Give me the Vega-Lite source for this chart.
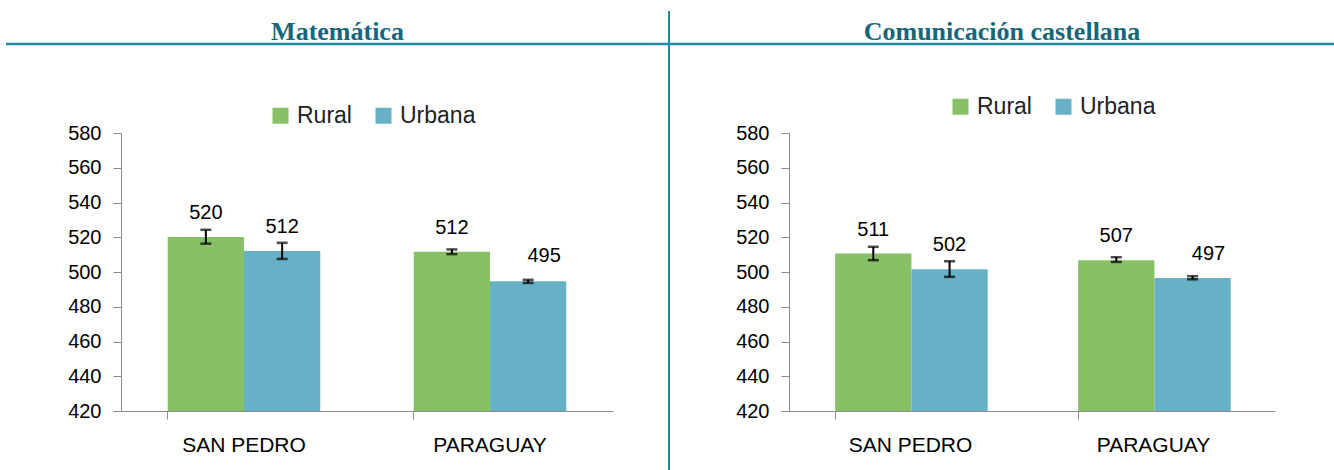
{
  "$schema": "https://vega.github.io/schema/vega-lite/v6.json",
  "padding": {"left": 4, "top": 10, "right": 0, "bottom": 0},
  "background": "white",
  "config": {
    "view": {"stroke": null},
    "font": "Liberation Sans",
    "axisY": {"grid": false, "domainColor": "#8c8c8c", "tickColor": "#8c8c8c", "tickSize": 8, "labelPadding": 12, "labelFontSize": 20, "labelColor": "#000000", "domainWidth": 1, "labelOverlap": false},
    "axisX": {"grid": false, "domainColor": "#8c8c8c", "tickColor": "#8c8c8c", "tickSize": 8, "labelPadding": 15, "labelFontSize": 21, "labelColor": "#000000", "labelAngle": 0, "domainWidth": 1}
  },
  "datasets": {
    "scores": [
      {"subject": "Matemática", "region": "SAN PEDRO", "area": "Rural", "value": 520.1, "lo": 516.3, "hi": 524.3, "label": "520"},
      {"subject": "Matemática", "region": "SAN PEDRO", "area": "Urbana", "value": 512.1, "lo": 507.5, "hi": 516.8, "label": "512"},
      {"subject": "Matemática", "region": "PARAGUAY", "area": "Rural", "value": 511.6, "lo": 510.3, "hi": 513.0, "label": "512"},
      {"subject": "Matemática", "region": "PARAGUAY", "area": "Urbana", "value": 494.7, "lo": 493.7, "hi": 495.5, "label": "495"},
      {"subject": "Comunicación castellana", "region": "SAN PEDRO", "area": "Rural", "value": 510.6, "lo": 506.8, "hi": 514.5, "label": "511"},
      {"subject": "Comunicación castellana", "region": "SAN PEDRO", "area": "Urbana", "value": 501.6, "lo": 497.2, "hi": 506.2, "label": "502"},
      {"subject": "Comunicación castellana", "region": "PARAGUAY", "area": "Rural", "value": 506.7, "lo": 505.8, "hi": 508.5, "label": "507"},
      {"subject": "Comunicación castellana", "region": "PARAGUAY", "area": "Urbana", "value": 496.6, "lo": 495.8, "hi": 497.6, "label": "497"}
    ],
    "headers": [
      {"subject": "Matemática"},
      {"subject": "Comunicación castellana"}
    ]
  },
  "bounds": "flush",
  "spacing": 176,
  "resolve": {"scale": {"color": "independent"}, "legend": {"color": "independent"}},
  "hconcat": [
    {
      "width": 492, "height": 278,
      "layer": [
        {
          "data": {"name": "scores"},
          "transform": [{"filter": {"field": "subject", "equal": "Matemática"}}],
          "encoding": {
            "x": {"field": "region", "type": "nominal", "sort": ["SAN PEDRO", "PARAGUAY"], "title": null, "scale": {"paddingInner": 0.38, "paddingOuter": 0.19}, "axis": {"bandPosition": 0}},
            "xOffset": {"field": "area", "type": "nominal", "sort": ["Rural", "Urbana"], "scale": {"paddingInner": 0, "paddingOuter": 0}}
          },
          "layer": [
            {
              "mark": {"type": "bar"},
              "encoding": {
                "y": {"field": "value", "type": "quantitative", "title": null, "scale": {"domain": [420, 580], "nice": false, "zero": false}, "axis": {"values": [420, 440, 460, 480, 500, 520, 540, 560, 580]}},
                "y2": {"datum": 420},
                "color": {"field": "area", "type": "nominal", "sort": ["Rural", "Urbana"], "scale": {"domain": ["Rural", "Urbana"], "range": ["#87c066", "#66b1c6"]},
                  "legend": {"orient": "none", "legendX": 148, "legendY": -29, "direction": "horizontal", "title": null, "symbolType": "square", "symbolSize": 256, "symbolStrokeWidth": 0, "labelFontSize": 23, "labelColor": "#222222", "columnPadding": 20, "labelOffset": 5}}
              }
            },
            {"mark": {"type": "rule", "strokeWidth": 2, "color": "#000000"}, "encoding": {"y": {"field": "lo", "type": "quantitative", "title": null, "axis": {"values": [420, 440, 460, 480, 500, 520, 540, 560, 580]}}, "y2": {"field": "hi"}}},
            {"mark": {"type": "tick", "size": 11, "thickness": 2.5, "color": "#000000"}, "encoding": {"y": {"field": "lo", "type": "quantitative", "title": null, "axis": {"values": [420, 440, 460, 480, 500, 520, 540, 560, 580]}}}},
            {"mark": {"type": "tick", "size": 11, "thickness": 2.5, "color": "#000000"}, "encoding": {"y": {"field": "hi", "type": "quantitative", "title": null, "axis": {"values": [420, 440, 460, 480, 500, 520, 540, 560, 580]}}}},
            {
              "transform": [{"filter": "!(datum.region == 'PARAGUAY' && datum.area == 'Urbana')"}],
              "mark": {"type": "text", "dy": -24, "baseline": "middle", "fontSize": 20, "color": "#000000"},
              "encoding": {"y": {"field": "value", "type": "quantitative", "title": null, "axis": {"values": [420, 440, 460, 480, 500, 520, 540, 560, 580]}}, "text": {"field": "label"}}
            },
            {
              "transform": [{"filter": "datum.region == 'PARAGUAY' && datum.area == 'Urbana'"}],
              "mark": {"type": "text", "dy": -25, "dx": 16, "baseline": "middle", "fontSize": 20, "color": "#000000"},
              "encoding": {"y": {"field": "value", "type": "quantitative", "title": null, "axis": {"values": [420, 440, 460, 480, 500, 520, 540, 560, 580]}}, "text": {"field": "label"}}
            }
          ]
        },
        {
          "data": {"name": "headers"},
          "transform": [{"filter": {"field": "subject", "equal": "Matemática"}}],
          "layer": [
            {
              "mark": {"type": "rule", "color": "#1f8aa6", "strokeWidth": 2.5},
              "encoding": {
                "x": {"datum": -115, "type": "quantitative", "scale": {"domain": [0, 492], "nice": false, "zero": false}, "axis": null},
                "x2": {"datum": 548},
                "y": {"datum": 631.2, "type": "quantitative", "axis": {"values": [420, 440, 460, 480, 500, 520, 540, 560, 580]}, "title": null}
              }
            },
            {
              "mark": {"type": "rule", "color": "#1f8aa6", "strokeWidth": 2},
              "encoding": {
                "x": {"datum": 548, "type": "quantitative", "scale": {"domain": [0, 492], "nice": false, "zero": false}, "axis": null},
                "y": {"datum": 650.2, "type": "quantitative", "axis": {"values": [420, 440, 460, 480, 500, 520, 540, 560, 580]}, "title": null},
                "y2": {"datum": 385.5}
              }
            },
            {
              "mark": {"type": "text", "font": "Liberation Serif", "fontSize": 26, "fontWeight": "bold", "color": "#17667b", "align": "center", "baseline": "alphabetic"},
              "encoding": {
                "x": {"datum": 216.5, "type": "quantitative", "scale": {"domain": [0, 492], "nice": false, "zero": false}, "axis": null},
                "y": {"datum": 633.5, "type": "quantitative", "axis": {"values": [420, 440, 460, 480, 500, 520, 540, 560, 580]}, "title": null},
                "text": {"field": "subject"}
              }
            }
          ]
        }
      ],
      "resolve": {"scale": {"x": "independent"}, "axis": {"x": "independent"}}
    },
    {
      "width": 486, "height": 278,
      "layer": [
        {
          "data": {"name": "scores"},
          "transform": [{"filter": {"field": "subject", "equal": "Comunicación castellana"}}],
          "encoding": {
            "x": {"field": "region", "type": "nominal", "sort": ["SAN PEDRO", "PARAGUAY"], "title": null, "scale": {"paddingInner": 0.38, "paddingOuter": 0.19}, "axis": {"bandPosition": 0}},
            "xOffset": {"field": "area", "type": "nominal", "sort": ["Rural", "Urbana"], "scale": {"paddingInner": 0, "paddingOuter": 0}}
          },
          "layer": [
            {
              "mark": {"type": "bar"},
              "encoding": {
                "y": {"field": "value", "type": "quantitative", "title": null, "scale": {"domain": [420, 580], "nice": false, "zero": false}, "axis": {"values": [420, 440, 460, 480, 500, 520, 540, 560, 580]}},
                "y2": {"datum": 420},
                "color": {"field": "area", "type": "nominal", "sort": ["Rural", "Urbana"], "scale": {"domain": ["Rural", "Urbana"], "range": ["#87c066", "#66b1c6"]},
                  "legend": {"orient": "none", "legendX": 160, "legendY": -38, "direction": "horizontal", "title": null, "symbolType": "square", "symbolSize": 256, "symbolStrokeWidth": 0, "labelFontSize": 23, "labelColor": "#222222", "columnPadding": 20, "labelOffset": 5}}
              }
            },
            {"mark": {"type": "rule", "strokeWidth": 2, "color": "#000000"}, "encoding": {"y": {"field": "lo", "type": "quantitative", "title": null, "axis": {"values": [420, 440, 460, 480, 500, 520, 540, 560, 580]}}, "y2": {"field": "hi"}}},
            {"mark": {"type": "tick", "size": 11, "thickness": 2.5, "color": "#000000"}, "encoding": {"y": {"field": "lo", "type": "quantitative", "title": null, "axis": {"values": [420, 440, 460, 480, 500, 520, 540, 560, 580]}}}},
            {"mark": {"type": "tick", "size": 11, "thickness": 2.5, "color": "#000000"}, "encoding": {"y": {"field": "hi", "type": "quantitative", "title": null, "axis": {"values": [420, 440, 460, 480, 500, 520, 540, 560, 580]}}}},
            {
              "transform": [{"filter": "!(datum.region == 'PARAGUAY' && datum.area == 'Urbana')"}],
              "mark": {"type": "text", "dy": -24, "baseline": "middle", "fontSize": 20, "color": "#000000"},
              "encoding": {"y": {"field": "value", "type": "quantitative", "title": null, "axis": {"values": [420, 440, 460, 480, 500, 520, 540, 560, 580]}}, "text": {"field": "label"}}
            },
            {
              "transform": [{"filter": "datum.region == 'PARAGUAY' && datum.area == 'Urbana'"}],
              "mark": {"type": "text", "dy": -24, "dx": 16, "baseline": "middle", "fontSize": 20, "color": "#000000"},
              "encoding": {"y": {"field": "value", "type": "quantitative", "title": null, "axis": {"values": [420, 440, 460, 480, 500, 520, 540, 560, 580]}}, "text": {"field": "label"}}
            }
          ]
        },
        {
          "data": {"name": "headers"},
          "transform": [{"filter": {"field": "subject", "equal": "Comunicación castellana"}}],
          "layer": [
            {
              "mark": {"type": "rule", "color": "#1f8aa6", "strokeWidth": 2.5},
              "encoding": {
                "x": {"datum": -120, "type": "quantitative", "scale": {"domain": [0, 486], "nice": false, "zero": false}, "axis": null},
                "x2": {"datum": 548},
                "y": {"datum": 631.2, "type": "quantitative", "axis": {"values": [420, 440, 460, 480, 500, 520, 540, 560, 580]}, "title": null}
              }
            },
            {
              "mark": {"type": "text", "font": "Liberation Serif", "fontSize": 26, "fontWeight": "bold", "color": "#17667b", "align": "center", "baseline": "alphabetic"},
              "encoding": {
                "x": {"datum": 213, "type": "quantitative", "scale": {"domain": [0, 486], "nice": false, "zero": false}, "axis": null},
                "y": {"datum": 633.5, "type": "quantitative", "axis": {"values": [420, 440, 460, 480, 500, 520, 540, 560, 580]}, "title": null},
                "text": {"field": "subject"}
              }
            }
          ]
        }
      ],
      "resolve": {"scale": {"x": "independent"}, "axis": {"x": "independent"}}
    }
  ]
}
